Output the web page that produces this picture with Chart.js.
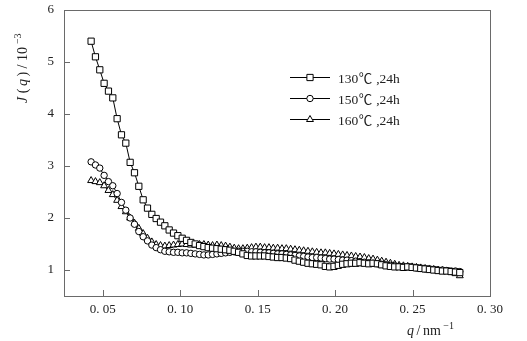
<!DOCTYPE html>
<html>
<head>
<meta charset="utf-8">
<script src="https://cdn.jsdelivr.net/npm/chart.js@4.4.1/dist/chart.umd.min.js"></script>
<style>
  html, body { margin: 0; padding: 0; background: #fff; }
  canvas { display: block; }
</style>
</head>
<body>
<canvas id="c" width="527" height="341"></canvas>
<script>
// Scattering vector q (nm^-1), shared by all three samples
const q = [
  0.0425,0.0453,0.0481,0.0509,0.0537,0.0565,0.0593,0.0621,0.0649,0.0677,
  0.0705,0.0733,0.0761,0.0789,0.0817,0.0845,0.0873,0.0901,0.0929,0.0957,
  0.0985,0.1013,0.1041,0.1069,0.1097,0.1125,0.1153,0.1181,0.1209,0.1237,
  0.1265,0.1293,0.1321,0.1349,0.1377,0.1405,0.1433,0.1461,0.1489,0.1517,
  0.1545,0.1573,0.1601,0.1629,0.1657,0.1685,0.1713,0.1741,0.1769,0.1797,
  0.1825,0.1853,0.1881,0.1909,0.1937,0.1965,0.1993,0.2021,0.2049,0.2077,
  0.2105,0.2133,0.2161,0.2189,0.2217,0.2245,0.2273,0.2301,0.2329,0.2357,
  0.2385,0.2413,0.2441,0.2469,0.2497,0.2525,0.2553,0.2581,0.2609,0.2637,
  0.2665,0.2693,0.2721,0.2749,0.2777,0.2805
];

// J(q) in units of 1e-3
const j130 = [
  5.40,5.10,4.85,4.59,4.44,4.31,3.91,3.60,3.44,3.07,
  2.87,2.61,2.35,2.19,2.07,1.99,1.92,1.85,1.77,1.71,
  1.66,1.61,1.57,1.53,1.50,1.47,1.45,1.43,1.42,1.41,
  1.40,1.39,1.38,1.36,1.34,1.31,1.28,1.27,1.27,1.27,
  1.27,1.26,1.25,1.24,1.24,1.23,1.22,1.19,1.17,1.15,
  1.13,1.12,1.11,1.10,1.07,1.06,1.07,1.09,1.11,1.12,
  1.13,1.13,1.14,1.13,1.12,1.13,1.12,1.10,1.08,1.07,
  1.06,1.06,1.05,1.06,1.05,1.04,1.03,1.02,1.01,1.00,
  0.99,0.98,0.98,0.97,0.96,0.95
];
const j150 = [
  3.08,3.02,2.96,2.82,2.70,2.62,2.47,2.30,2.15,2.00,
  1.88,1.74,1.64,1.56,1.48,1.43,1.39,1.36,1.35,1.34,
  1.34,1.33,1.33,1.32,1.31,1.30,1.29,1.29,1.30,1.31,
  1.32,1.33,1.34,1.35,1.36,1.36,1.36,1.35,1.35,1.34,
  1.33,1.33,1.32,1.31,1.31,1.30,1.29,1.28,1.27,1.26,
  1.25,1.24,1.24,1.23,1.22,1.21,1.21,1.20,1.19,1.19,
  1.18,1.17,1.16,1.15,1.14,1.13,1.12,1.11,1.10,1.09,
  1.08,1.07,1.06,1.06,1.05,1.04,1.03,1.02,1.02,1.01,
  1.00,1.00,0.99,0.98,0.98,0.97
];
const j160 = [
  2.72,2.70,2.68,2.62,2.53,2.45,2.34,2.22,2.12,2.00,
  1.90,1.80,1.70,1.61,1.54,1.49,1.47,1.46,1.47,1.48,
  1.49,1.50,1.49,1.48,1.48,1.49,1.49,1.48,1.47,1.48,
  1.47,1.46,1.44,1.42,1.41,1.41,1.42,1.43,1.44,1.44,
  1.43,1.43,1.42,1.42,1.41,1.41,1.40,1.39,1.38,1.37,
  1.36,1.35,1.34,1.33,1.33,1.32,1.31,1.30,1.29,1.28,
  1.27,1.26,1.25,1.24,1.22,1.21,1.19,1.17,1.15,1.13,
  1.11,1.09,1.08,1.07,1.06,1.05,1.04,1.03,1.02,1.01,
  1.00,0.99,0.98,0.96,0.93,0.89
];

// legend labels: temperature, unit, annealing time
const seriesTemps = ['130', '150', '160'];
const seriesTimes = [',24h', ',24h', ',24h'];
const xTickValues = [0.05, 0.10, 0.15, 0.20, 0.25, 0.30];
const xTickLabels = ['0. 05', '0. 10', '0. 15', '0. 20', '0. 25', '0. 30'];
const yTickValues = [1, 2, 3, 4, 5, 6];
const yTickLabels = ['1', '2', '3', '4', '5', '6'];

const FONT = "'Liberation Serif', 'Noto Sans CJK SC', serif";
const CJK = "'Noto Sans CJK SC', sans-serif";
const AXIS_GREY = '#6a6a6a';

const toPoints = arr => q.map((x, i) => ({ x: x, y: arr[i] }));

const styles = [
  { pointStyle: 'rect', pointRadius: 4.4 },
  { pointStyle: 'circle', pointRadius: 3.2 },
  { pointStyle: 'triangle', pointRadius: 4.0 }
];

const datasets = [j130, j150, j160].map((arr, k) => ({
  label: seriesTemps[k] + '℃' + seriesTimes[k],
  data: toPoints(arr),
  showLine: true,
  borderColor: '#000',
  borderWidth: 1,
  pointStyle: styles[k].pointStyle,
  pointRadius: styles[k].pointRadius,
  pointBackgroundColor: '#fff',
  pointBorderColor: '#000',
  pointBorderWidth: 1,
  tension: 0
}));

// Draw a run of text pieces (italic / superscript / own family) left to right
function drawRich(ctx, parts, x, y, size) {
  let cx = x;
  parts.forEach(p => {
    const fs = p.sup ? size * 0.72 : size;
    ctx.font = (p.italic ? 'italic ' : '') + fs + 'px ' + (p.family || FONT);
    ctx.fillText(p.t, cx, p.sup ? y - size * 0.42 : y);
    cx += ctx.measureText(p.t).width + (p.gap || 0);
  });
}

const decorations = {
  id: 'decorations',
  afterDraw(chart) {
    const ctx = chart.ctx;
    const a = chart.chartArea;
    const xs = chart.scales.x, ys = chart.scales.y;
    ctx.save();

    // frame
    ctx.strokeStyle = AXIS_GREY;
    ctx.lineWidth = 1;
    ctx.strokeRect(Math.round(a.left) + 0.5, Math.round(a.top) + 0.5,
                   Math.round(a.right - a.left), Math.round(a.bottom - a.top));

    // inward tick marks
    ctx.beginPath();
    xTickValues.forEach(v => {
      const px = Math.round(xs.getPixelForValue(v)) + 0.5;
      ctx.moveTo(px, a.bottom);
      ctx.lineTo(px, a.bottom - 6);
    });
    yTickValues.forEach(v => {
      const py = Math.round(ys.getPixelForValue(v)) + 0.5;
      ctx.moveTo(a.left, py);
      ctx.lineTo(a.left + 6, py);
    });
    ctx.stroke();

    ctx.fillStyle = '#222';
    ctx.textBaseline = 'alphabetic';
    ctx.textAlign = 'left';

    // x-axis title
    drawRich(ctx, [
      { t: 'q', italic: true, gap: 2.5 },
      { t: '/', gap: 2.5 },
      { t: 'nm', gap: 2.5 },
      { t: '−1', sup: true }
    ], 407, 335, 14);

    // y-axis title (rotated)
    ctx.save();
    ctx.translate(27, 103);
    ctx.rotate(-Math.PI / 2);
    drawRich(ctx, [
      { t: 'J', italic: true, gap: 3.5 },
      { t: '(', gap: 2.5 },
      { t: 'q', italic: true, gap: 2.5 },
      { t: ')', gap: 3.5 },
      { t: '/', gap: 3.5 },
      { t: '10', gap: 3 },
      { t: '−3', sup: true }
    ], 0, 0, 14);
    ctx.restore();

    // legend
    const rows = [77, 98, 119];
    chart.data.datasets.forEach((ds, k) => {
      const y = rows[k] + 0.5;
      ctx.strokeStyle = '#000';
      ctx.lineWidth = 1;
      ctx.beginPath();
      ctx.moveTo(290, y);
      ctx.lineTo(330, y);
      ctx.stroke();
      ctx.fillStyle = '#fff';
      Chart.helpers.drawPoint(ctx, {
        pointStyle: ds.pointStyle, radius: ds.pointRadius, borderWidth: 1, rotation: 0
      }, 310, y);
      ctx.fillStyle = '#222';
      ctx.textBaseline = 'alphabetic';
      drawRich(ctx, [
        { t: seriesTemps[k], gap: 0.5 },
        { t: '℃', family: CJK, gap: 4 },
        { t: seriesTimes[k] }
      ], 338, rows[k] + 5.5, 13.5);
    });

    ctx.restore();
  }
};

new Chart(document.getElementById('c'), {
  type: 'scatter',
  data: { datasets: datasets },
  options: {
    responsive: false,
    animation: false,
    devicePixelRatio: 1,
    layout: { padding: { left: 0, top: 10, right: 37, bottom: 0 } },
    plugins: { legend: { display: false }, tooltip: { enabled: false } },
    scales: {
      x: {
        type: 'linear',
        min: 0.025,
        max: 0.30,
        grid: { display: false, drawTicks: false },
        border: { display: false },
        afterBuildTicks: s => { s.ticks = xTickValues.map(v => ({ value: v })); },
        afterFit: s => { s.height = 45; s.paddingLeft = 0; s.paddingRight = 0; },
        ticks: {
          padding: 6,
          color: '#222',
          font: { family: FONT, size: 13 },
          maxRotation: 0,
          autoSkip: false,
          callback: (v, i) => xTickLabels[i]
        }
      },
      y: {
        min: 0.5,
        max: 6,
        grid: { display: false, drawTicks: false },
        border: { display: false },
        afterBuildTicks: s => { s.ticks = yTickValues.map(v => ({ value: v })); },
        afterFit: s => { s.width = 64; s.paddingTop = 0; s.paddingBottom = 0; },
        ticks: {
          padding: 10,
          color: '#222',
          font: { family: FONT, size: 13 },
          autoSkip: false,
          callback: (v, i) => yTickLabels[i]
        }
      }
    }
  },
  plugins: [decorations]
});
</script>
</body>
</html>
